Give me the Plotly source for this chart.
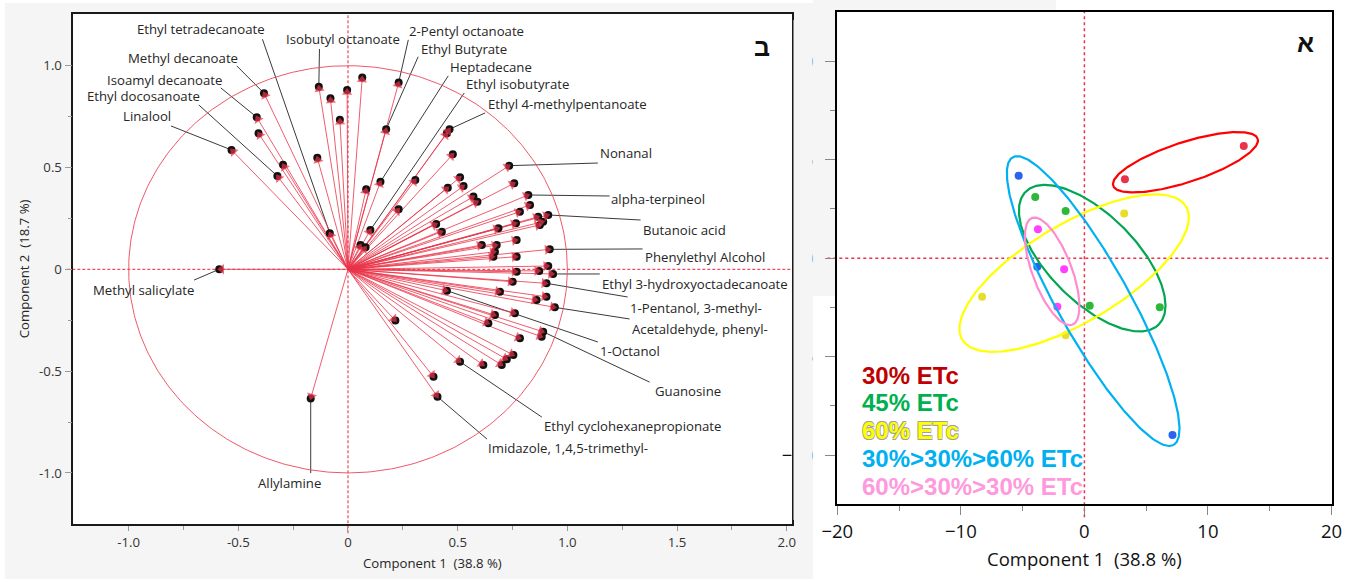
import numpy as np
import plotly.graph_objects as go

W, H = 1349, 582

# ---------------- Loading plot (image "ב") ----------------
load_names = [
    "Methyl salicylate", "Linalool", "Isoamyl decanoate", "", "Methyl decanoate", "",
    "Ethyl docosanoate", "", "Ethyl tetradecanoate", "Isobutyl octanoate", "", "",
    "", "", "Ethyl Butyrate", "2-Pentyl octanoate", "", "Heptadecane",
    "", "Ethyl isobutyrate", "", "", "Ethyl 4-methylpentanoate", "",
    "", "", "", "", "", "",
    "", "Nonanal", "", "", "", "alpha-terpineol",
    "", "", "", "Butanoic acid", "", "",
    "", "", "", "", "", "",
    "", "", "Phenylethyl Alcohol", "", "", "",
    "Ethyl 3-hydroxyoctadecanoate", "", "1-Pentanol, 3-methyl-", "1-Octanol", "", "",
    "", "Acetaldehyde, phenyl-", "", "", "", "Guanosine",
    "", "", "", "", "", "",
    "Ethyl cyclohexanepropionate", "", "Imidazole, 1,4,5-trimethyl-", "Allylamine", "",
]
load_pc1 = [
    -0.587, -0.531, -0.416, -0.408, -0.383, -0.296,
    -0.322, -0.140, -0.083, -0.133, -0.080, -0.037,
    -0.004, 0.065, 0.174, 0.231, 0.083, 0.148,
    0.231, 0.102, 0.057, 0.080, 0.463, 0.451,
    0.478, 0.307, 0.511, 0.527, 0.455, 0.402,
    0.428, 0.735, 0.758, 0.572, 0.590, 0.822,
    0.830, 0.784, 0.867, 0.913, 0.875, 0.890,
    0.766, 0.686, 0.769, 0.610, 0.678, 0.670,
    0.663, 0.769, 0.920, 0.913, 0.769, 0.872,
    0.935, 0.751, 0.905, 0.451, 0.693, 0.860,
    0.905, 0.943, 0.761, 0.670, 0.640, 0.890,
    0.883, 0.784, 0.754, 0.724, 0.701, 0.617,
    0.511, 0.390, 0.408, -0.170, 0.216,
]
load_pc2 = [
    0.000, 0.586, 0.747, 0.668, 0.865, 0.513,
    0.458, 0.548, 0.177, 0.897, 0.840, 0.734,
    0.881, 0.942, 0.688, 0.917, 0.393, 0.430,
    0.295, 0.193, 0.119, 0.108, 0.688, 0.668,
    0.565, 0.439, 0.452, 0.409, 0.401, 0.223,
    0.185, 0.509, 0.423, 0.357, 0.332, 0.365,
    0.316, 0.283, 0.258, 0.267, 0.218, 0.234,
    0.226, 0.201, 0.144, 0.119, 0.119, 0.086,
    0.062, 0.062, 0.098, 0.016, -0.012, -0.008,
    -0.023, -0.061, -0.069, -0.105, -0.110, -0.151,
    -0.135, -0.187, -0.216, -0.225, -0.265, -0.307,
    -0.331, -0.339, -0.421, -0.442, -0.470, -0.470,
    -0.454, -0.528, -0.626, -0.634, -0.252,
]

# label placement (text anchor and leader start), in loading-plot units
lab_names = [
    "Ethyl tetradecanoate", "Methyl decanoate", "Isoamyl decanoate", "Ethyl docosanoate",
    "Linalool", "Isobutyl octanoate", "2-Pentyl octanoate", "Ethyl Butyrate", "Heptadecane",
    "Ethyl isobutyrate", "Ethyl 4-methylpentanoate", "Nonanal", "alpha-terpineol",
    "Butanoic acid", "Phenylethyl Alcohol", "Ethyl 3-hydroxyoctadecanoate",
    "1-Pentanol, 3-methyl-", "Acetaldehyde, phenyl-", "1-Octanol", "Guanosine",
    "Ethyl cyclohexanepropionate", "Imidazole, 1,4,5-trimethyl-", "Allylamine",
    "Methyl salicylate",
]
lab_tx = [-0.970, -1.011, -1.107, -1.198, -1.034, -0.293, 0.270, 0.323, 0.457, 0.530,
          0.627, 1.139, 1.189, 1.334, 1.347, 1.148, 1.276, 1.287, 1.139, 1.389,
          0.884, 0.627, -0.267, -1.170]
lab_ty = [1.179, 1.039, 0.929, 0.853, 0.752, 1.133, 1.170, 1.084, 0.994, 0.912,
          0.813, 0.571, 0.343, 0.195, 0.060, -0.071, -0.190, -0.295, -0.401, -0.598,
          -0.771, -0.876, -1.049, -0.102]
lab_lx = [-0.390, -0.507, -0.580, -0.680, -0.807, -0.130, 0.275, 0.320, 0.457, 0.530,
          0.625, 1.139, 1.193, 1.334, 1.343, 1.148, 1.275, 1.284, 1.139, 1.375,
          0.884, 0.634, -0.170, -0.702]
lab_ly = [1.130, 0.999, 0.891, 0.807, 0.704, 1.082, 1.127, 1.044, 0.950, 0.866,
          0.768, 0.522, 0.360, 0.242, 0.100, -0.023, -0.136, -0.244, -0.357, -0.554,
          -0.726, -0.834, -1.001, -0.053]

# ---------------- Score plot (image "א") ----------------
grp_names = ["30% ETc", "45% ETc", "60% ETc", "30%>30%>60% ETc", "60%>30%>30% ETc"]
s30_pc1 = [12.9, 3.28]
s30_pc2 = [5.70, 4.01]
s45_pc1 = [-3.98, -1.52, 0.43, 6.10]
s45_pc2 = [3.11, 2.40, -2.42, -2.49]
s60_pc1 = [3.22, -8.28, -1.52]
s60_pc2 = [2.27, -1.96, -3.91]
s336_pc1 = [-5.32, -3.81, 7.13]
s336_pc2 = [4.18, -0.44, -8.98]
s633_pc1 = [-3.76, -1.64, -2.19]
s633_pc2 = [1.47, -0.57, -2.47]

# group ellipses: centre, semi-axes (PC1 units, screen-proportional) and tilt
ell_cx = [8.18, 0.63, -0.83, 0.71, -2.61]
ell_cy = [4.87, 0.00, -0.76, -2.18, -0.67]
ell_a = [6.15, 7.61, 10.54, 13.34, 4.62]
ell_b = [1.62, 3.53, 3.97, 2.91, 1.59]
ell_deg = [18.0, -45.0, 30.7, -60.8, -69.3]

pt_colors = ["#E8334A", "#2DB83A", "#E6DE2C", "#2A62F2", "#FF40FF"]
ell_colors = ["#FF0000", "#00A650", "#FFFF00", "#00B0F0", "#FF8CCF"]
txt_colors = ["#C00000", "#00B050", "#FFFF00", "#00B0F0", "#FF99DD"]

# ---------------- geometry (pixels) ----------------
LX0, LX1, LY0, LY1 = 73.3, 792.3, 14.3, 524.3       # left plot box (top-based y)
RX0, RX1, RY0, RY1 = 837.3, 1331.5, 12.0, 504.3      # right plot box
L_XR = [-1.2524, 2.0257]
L_YR = [-1.2524, 1.2524]
R_XR = [-20, 20]
R_YR = [-12.5, 12.5]


def px(x):
    return x / W


def py(y):
    return 1 - y / H


def lmap(x, y):
    X = LX0 + (x - L_XR[0]) / (L_XR[1] - L_XR[0]) * (LX1 - LX0)
    Y = LY1 - (y - L_YR[0]) / (L_YR[1] - L_YR[0]) * (LY1 - LY0)
    return px(X), py(Y)


def rmap(x, y):
    X = RX0 + (x - R_XR[0]) / (R_XR[1] - R_XR[0]) * (RX1 - RX0)
    Y = RY1 - (y - R_YR[0]) / (R_YR[1] - R_YR[0]) * (RY1 - RY0)
    return px(X), py(Y)


fig = go.Figure()

# leader lines
llx, lly = [], []
for n, sx, sy in zip(lab_names, lab_lx, lab_ly):
    i = load_names.index(n)
    llx += [sx, load_pc1[i], None]
    lly += [sy, load_pc2[i], None]
fig.add_trace(go.Scatter(x=llx, y=lly, mode="lines", line=dict(color="#3a3a3a", width=1),
                         hoverinfo="skip", showlegend=False, xaxis="x", yaxis="y"))

# unit circle
t = np.linspace(0, 2 * np.pi, 400)
fig.add_trace(go.Scatter(x=np.cos(t), y=np.sin(t), mode="lines",
                         line=dict(color="rgba(236,70,88,0.9)", width=1),
                         hoverinfo="skip", showlegend=False, xaxis="x", yaxis="y"))

# arrows
ax, ay, asz = [], [], []
for x, y in zip(load_pc1, load_pc2):
    ax += [0, x, None]
    ay += [0, y, None]
    asz += [0, 9, 0]
fig.add_trace(go.Scatter(x=ax, y=ay, mode="lines", line=dict(color="rgba(234,52,74,0.8)", width=1),
                         hoverinfo="skip", showlegend=False, xaxis="x", yaxis="y"))
# black dots
fig.add_trace(go.Scatter(x=load_pc1, y=load_pc2, mode="markers",
                         marker=dict(size=8, color="#111111"),
                         text=load_names, showlegend=False, xaxis="x", yaxis="y"))
# arrow heads
fig.add_trace(go.Scatter(x=ax, y=ay, mode="markers",
                         marker=dict(symbol="triangle-up", size=asz, angleref="previous",
                                     standoff=2.5, color="#EC3248", line=dict(width=0)),
                         hoverinfo="skip", showlegend=False, xaxis="x", yaxis="y"))

# score points
groups = [(s30_pc1, s30_pc2), (s45_pc1, s45_pc2), (s60_pc1, s60_pc2),
          (s336_pc1, s336_pc2), (s633_pc1, s633_pc2)]
for (gx, gy), c, n in zip(groups, pt_colors, grp_names):
    fig.add_trace(go.Scatter(x=gx, y=gy, mode="markers", name=n,
                             marker=dict(size=8, color=c), showlegend=False,
                             xaxis="x2", yaxis="y2"))

# ellipses
ratio = ((RY1 - RY0) / (R_YR[1] - R_YR[0])) / ((RX1 - RX0) / (R_XR[1] - R_XR[0]))
tt = np.linspace(0, 2 * np.pi, 300)
for cx, cy, a, b, d, c in zip(ell_cx, ell_cy, ell_a, ell_b, ell_deg, ell_colors):
    th = np.radians(d)
    u, v = a * np.cos(tt), b * np.sin(tt)
    ex = cx + u * np.cos(th) - v * np.sin(th)
    ey = cy + (u * np.sin(th) + v * np.cos(th)) / ratio
    fig.add_trace(go.Scatter(x=ex, y=ey, mode="lines", line=dict(color=c, width=2.2),
                             hoverinfo="skip", showlegend=False, xaxis="x2", yaxis="y2"))

GRAY = "#F5F5F5"
shapes = [
    dict(type="rect", xref="paper", yref="paper", x0=px(5), x1=px(813), y0=py(579), y1=py(3),
         fillcolor=GRAY, line=dict(width=0), layer="below"),
    dict(type="rect", xref="paper", yref="paper", x0=px(LX0), x1=px(LX1), y0=py(LY1), y1=py(LY0),
         fillcolor="white", line=dict(width=0), layer="below"),
    dict(type="rect", xref="paper", yref="paper", x0=px(813), x1=px(RX0), y0=py(296), y1=py(0),
         fillcolor=GRAY, line=dict(width=0), layer="below"),
    dict(type="rect", xref="paper", yref="paper", x0=px(RX0), x1=px(1056), y0=py(11), y1=py(0),
         fillcolor=GRAY, line=dict(width=0), layer="below"),
    # cover that hides most of the right panel's y tick labels
    dict(type="rect", xref="paper", yref="paper", x0=px(793.5), x1=px(812.6), y0=py(520), y1=py(20),
         fillcolor=GRAY, line=dict(width=0), layer="above"),
]
# zero reference lines
x0p, y0p = lmap(0, 0)
shapes += [
    dict(type="line", xref="paper", yref="paper", x0=x0p, x1=x0p, y0=py(LY1 + 9), y1=py(LY0),
         line=dict(color="#E8243A", width=1, dash="3px,2px"), layer="below"),
    dict(type="line", xref="paper", yref="paper", x0=px(LX0 - 6), x1=px(LX1), y0=y0p, y1=y0p,
         line=dict(color="#E8243A", width=1, dash="3px,2px"), layer="below"),
]
rx0p, ry0p = rmap(0, 0)
shapes += [
    dict(type="line", xref="paper", yref="paper", x0=rx0p, x1=rx0p, y0=py(RY1 + 13), y1=py(RY0),
         line=dict(color="#E8334A", width=1.5, dash="3px,3px"), layer="below"),
    dict(type="line", xref="paper", yref="paper", x0=px(RX0 - 10), x1=px(RX1), y0=ry0p, y1=ry0p,
         line=dict(color="#E8334A", width=1.5, dash="3px,3px"), layer="below"),
]

FONT = "Open Sans, DejaVu Sans, sans-serif"
ann = []
for n, tx, ty in zip(lab_names, lab_tx, lab_ty):
    ann.append(dict(x=tx, y=ty, xref="x", yref="y", text=n, showarrow=False,
                    xanchor="center" if n == "Allylamine" else "left", yanchor="middle",
                    font=dict(family=FONT, size=13.2, color="#262626")))
ann += [
    dict(x=px((LX0 + LX1) / 2), y=py(563), xref="paper", yref="paper",
         text="Component 1\u00a0 (38.8 %)", showarrow=False, xanchor="center", yanchor="middle",
         font=dict(family=FONT, size=13.2, color="#262626")),
    dict(x=px(24), y=py((LY0 + LY1) / 2), xref="paper", yref="paper",
         text="Component 2\u00a0 (18.7 %)", showarrow=False, textangle=-90,
         xanchor="center", yanchor="middle", font=dict(family=FONT, size=13.2, color="#262626")),
    dict(x=px((RX0 + RX1) / 2), y=py(558), xref="paper", yref="paper",
         text="Component 1\u00a0 (38.8 %)", showarrow=False, xanchor="center", yanchor="middle",
         font=dict(family=FONT, size=18.5, color="#111")),
    dict(x=px(762), y=py(47), xref="paper", yref="paper", text="ב", showarrow=False,
         xanchor="center", yanchor="middle",
         font=dict(family="Liberation Sans, DejaVu Sans", size=25, color="#111", weight="bold")),
    dict(x=px(1305), y=py(43), xref="paper", yref="paper", text="א", showarrow=False,
         xanchor="center", yanchor="middle",
         font=dict(family="Liberation Sans, DejaVu Sans", size=25, color="#111", weight="bold")),
]
leg_y = [375, 402.7, 430.7, 458.3, 486]
for n, c, yy in zip(grp_names, txt_colors, leg_y):
    f = dict(family="Liberation Sans, Arial, sans-serif", size=24, color=c, weight="bold")
    if c == "#FFFF00":
        f["shadow"] = "0.6px 0.6px 0 #a0a0a0, -0.6px -0.6px 0 #a0a0a0, 0.6px -0.6px 0 #a0a0a0, -0.6px 0.6px 0 #a0a0a0"
    ann.append(dict(x=px(860), y=py(yy), xref="paper", yref="paper", text=n, showarrow=False,
                    xanchor="left", yanchor="middle", font=f))

tickc = "#9a9a9a"
fig.update_layout(
    width=W, height=H, margin=dict(l=0, r=0, t=0, b=0, autoexpand=False),
    paper_bgcolor="white", plot_bgcolor="white", showlegend=False,
    shapes=shapes, annotations=ann,
    xaxis=dict(domain=[px(LX0), px(LX1)], range=L_XR, anchor="y", automargin=False,
               showline=True, mirror=True, linecolor="#1a1a1a", linewidth=1.5,
               showgrid=False, zeroline=False, ticks="outside", ticklen=5, tickcolor=tickc,
               tickvals=[-1, -0.5, 0, 0.5, 1, 1.5, 2],
               ticktext=["-1.0", "-0.5", "0", "0.5", "1.0", "1.5", "2.0"],
               tickfont=dict(family=FONT, size=13.2, color="#333"),
               minor=dict(tickvals=[-0.75, -0.25, 0.25, 0.75, 1.25, 1.75], ticklen=4,
                          tickcolor=tickc, ticks="outside")),
    yaxis=dict(domain=[py(LY1), py(LY0)], range=L_YR, anchor="x", automargin=False,
               showline=True, mirror=True, linecolor="#1a1a1a", linewidth=1.5,
               showgrid=False, zeroline=False, ticks="outside", ticklen=7, tickcolor=tickc,
               tickvals=[-1, -0.5, 0, 0.5, 1], ticktext=["-1.0", "-0.5", "0", "0.5", "1.0"],
               tickfont=dict(family=FONT, size=13.2, color="#333"),
               minor=dict(tickvals=[-0.75, -0.25, 0.25, 0.75], ticklen=4,
                          tickcolor=tickc, ticks="outside")),
    xaxis2=dict(domain=[px(RX0), px(RX1)], range=R_XR, anchor="y2", automargin=False,
                showline=True, mirror=True, linecolor="#000", linewidth=2,
                showgrid=False, zeroline=False, ticks="outside", ticklen=9, tickcolor="#888",
                tickvals=[-20, -10, 0, 10, 20],
                tickfont=dict(family=FONT, size=18.5, color="#111"),
                minor=dict(tickvals=[-15, -5, 5, 15], ticklen=5, tickcolor="#888", ticks="outside")),
    yaxis2=dict(domain=[py(RY1), py(RY0)], range=R_YR, anchor="x2", automargin=False,
                showline=True, mirror=True, linecolor="#000", linewidth=2,
                showgrid=False, zeroline=False, ticks="outside", ticklen=10, tickcolor="#888",
                tickvals=[-10, -5, 0, 5, 10], ticklabelstandoff=8,
                tickfont=dict(family=FONT, size=18.5, color="#111"),
                minor=dict(tickvals=[-7.5, -2.5, 2.5, 7.5], ticklen=5, tickcolor="#888", ticks="outside")),
)

fig.write_html("out.html")
